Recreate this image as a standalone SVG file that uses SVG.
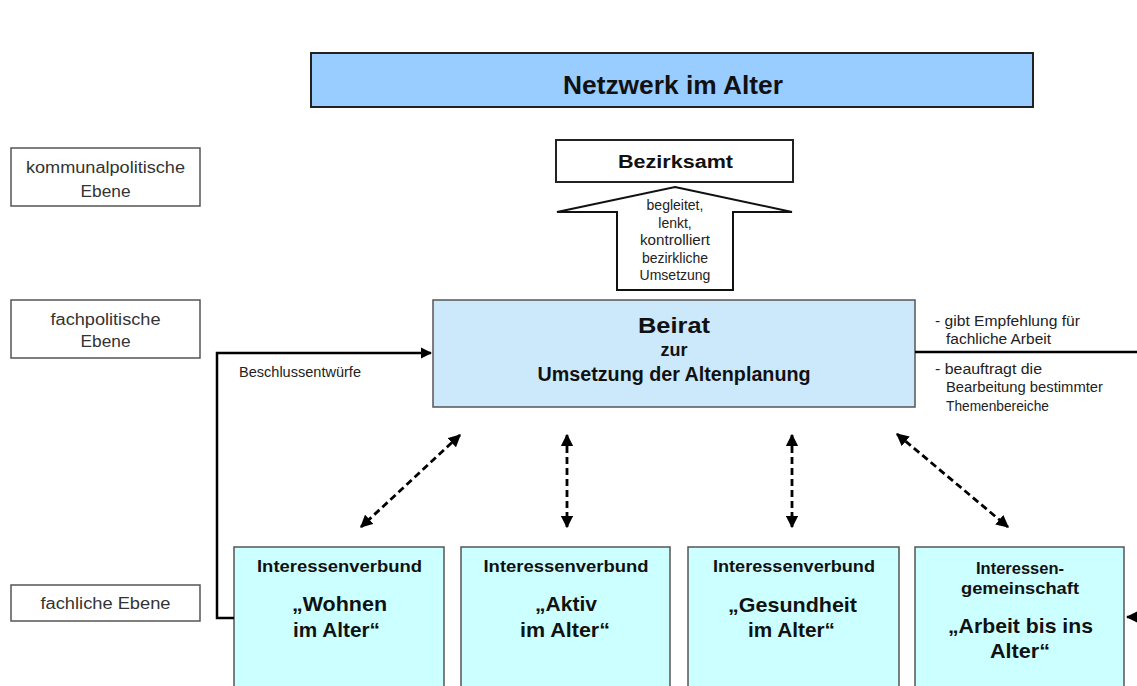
<svg xmlns="http://www.w3.org/2000/svg" width="1137" height="686" viewBox="0 0 1137 686">
<defs>
<style>
text{font-family:"Liberation Sans",Arial,sans-serif;fill:#111;}
.lvl{fill:#fff;stroke:#555;stroke-width:1.5;}
.lt{font-size:16px;fill:#333;text-anchor:middle;}
.sm{font-size:14px;fill:#222;}
.b{font-weight:bold;text-anchor:middle;}
.ib{fill:#ccffff;stroke:#555;stroke-width:1.5;}
.solid{fill:none;stroke:#000;stroke-width:2.5;}
.dash{fill:none;stroke:#000;stroke-width:2.8;stroke-dasharray:7,4;}
</style>
<marker id="ah" viewBox="0 0 10 10" refX="9" refY="5" markerWidth="4.5" markerHeight="4.5" orient="auto-start-reverse">
<path d="M0,0 L10,5 L0,10 z" fill="#000"/>
</marker>
</defs>
<rect width="1137" height="686" fill="#fff"/>

<g id="title">
<rect x="311" y="53" width="722" height="54" fill="#99ccff" stroke="#222" stroke-width="2"/>
<text x="673" y="94" class="b" font-size="25" textLength="220" lengthAdjust="spacingAndGlyphs">Netzwerk im Alter</text>
</g>

<g id="level-kommunal">
<rect x="11" y="148" width="189" height="58" class="lvl"/>
<text x="105.5" y="173" class="lt" textLength="159" lengthAdjust="spacingAndGlyphs">kommunalpolitische</text>
<text x="105.5" y="197" class="lt" textLength="50" lengthAdjust="spacingAndGlyphs">Ebene</text>
</g>
<g id="level-fachpolitisch">
<rect x="11" y="300" width="189" height="58" class="lvl"/>
<text x="105.5" y="325" class="lt" textLength="110" lengthAdjust="spacingAndGlyphs">fachpolitische</text>
<text x="105.5" y="347" class="lt" textLength="50" lengthAdjust="spacingAndGlyphs">Ebene</text>
</g>
<g id="level-fachlich">
<rect x="11" y="585" width="189" height="36" class="lvl"/>
<text x="105.5" y="609" class="lt" textLength="130" lengthAdjust="spacingAndGlyphs">fachliche Ebene</text>
</g>

<g id="bezirksamt">
<rect x="556" y="140" width="237" height="42" fill="#fff" stroke="#222" stroke-width="2"/>
<text x="675.5" y="168" class="b" font-size="18" textLength="115" lengthAdjust="spacingAndGlyphs">Bezirksamt</text>
</g>

<g id="block-arrow">
<path d="M675,187 L792,212 L733,212 L733,290 L617,290 L617,212 L557,212 Z" fill="#fff" stroke="#111" stroke-width="2"/>
<text class="sm" text-anchor="middle" x="675" y="210" font-size="13.5">begleitet,</text>
<text class="sm" text-anchor="middle" x="675" y="227.5" font-size="13.5">lenkt,</text>
<text class="sm" text-anchor="middle" x="675" y="245" font-size="13.5" textLength="70" lengthAdjust="spacingAndGlyphs">kontrolliert</text>
<text class="sm" text-anchor="middle" x="675" y="262.5" font-size="13.5">bezirkliche</text>
<text class="sm" text-anchor="middle" x="675" y="280" font-size="13.5">Umsetzung</text>
</g>

<g id="beirat">
<rect x="433" y="300" width="482" height="107" fill="#cce9fb" stroke="#555" stroke-width="1.5"/>
<text x="674" y="333" class="b" font-size="22" textLength="72" lengthAdjust="spacingAndGlyphs">Beirat</text>
<text x="674" y="356" class="b" font-size="18">zur</text>
<text x="674" y="381" class="b" font-size="20" textLength="273" lengthAdjust="spacingAndGlyphs">Umsetzung der Altenplanung</text>
</g>

<g id="beirat-notes">
<text class="sm" x="935" y="326" textLength="145" lengthAdjust="spacingAndGlyphs">- gibt Empfehlung für</text>
<text class="sm" x="946" y="344" textLength="105" lengthAdjust="spacingAndGlyphs">fachliche Arbeit</text>
<text class="sm" x="935" y="374" textLength="107" lengthAdjust="spacingAndGlyphs">- beauftragt die</text>
<text class="sm" x="946" y="392" textLength="157" lengthAdjust="spacingAndGlyphs">Bearbeitung bestimmter</text>
<text class="sm" x="946" y="411" textLength="103" lengthAdjust="spacingAndGlyphs">Themenbereiche</text>
<text class="sm" x="239" y="377" textLength="122" lengthAdjust="spacingAndGlyphs">Beschlussentwürfe</text>
</g>

<g id="iv-wohnen">
<rect x="234" y="547" width="210" height="150" class="ib"/>
<text x="339.5" y="572" class="b" font-size="17" textLength="165" lengthAdjust="spacingAndGlyphs">Interessenverbund</text>
<text x="339.5" y="611" class="b" font-size="21" textLength="95" lengthAdjust="spacingAndGlyphs">„Wohnen</text>
<text x="336.5" y="637" class="b" font-size="21" textLength="87" lengthAdjust="spacingAndGlyphs">im Alter“</text>
</g>
<g id="iv-aktiv">
<rect x="461" y="547" width="209" height="150" class="ib"/>
<text x="566" y="572" class="b" font-size="17" textLength="165" lengthAdjust="spacingAndGlyphs">Interessenverbund</text>
<text x="566" y="611" class="b" font-size="21" textLength="62" lengthAdjust="spacingAndGlyphs">„Aktiv</text>
<text x="565" y="637" class="b" font-size="21" textLength="90" lengthAdjust="spacingAndGlyphs">im Alter“</text>
</g>
<g id="iv-gesundheit">
<rect x="688" y="547" width="211" height="150" class="ib"/>
<text x="794" y="572" class="b" font-size="17" textLength="162" lengthAdjust="spacingAndGlyphs">Interessenverbund</text>
<text x="792.5" y="612" class="b" font-size="21" textLength="129" lengthAdjust="spacingAndGlyphs">„Gesundheit</text>
<text x="791.5" y="637" class="b" font-size="21" textLength="87" lengthAdjust="spacingAndGlyphs">im Alter“</text>
</g>
<g id="ig-arbeit">
<rect x="915" y="547" width="209" height="150" class="ib"/>
<text x="1020" y="574" class="b" font-size="17" textLength="88" lengthAdjust="spacingAndGlyphs">Interessen-</text>
<text x="1020" y="594" class="b" font-size="17" textLength="118" lengthAdjust="spacingAndGlyphs">gemeinschaft</text>
<text x="1020.5" y="633" class="b" font-size="21" textLength="145" lengthAdjust="spacingAndGlyphs">„Arbeit bis ins</text>
<text x="1020" y="658" class="b" font-size="21" textLength="60" lengthAdjust="spacingAndGlyphs">Alter“</text>
</g>

<g id="connectors">
<path d="M234,618 L217,618 L217,353 L431,353" class="solid" marker-end="url(#ah)"/>
<path d="M915,352 L1137,352" class="solid"/>
<path d="M1137,617 L1127,617" class="solid" marker-end="url(#ah)"/>
<path d="M460,435 L361,527" class="dash" marker-start="url(#ah)" marker-end="url(#ah)"/>
<path d="M567,435 L567,527" class="dash" marker-start="url(#ah)" marker-end="url(#ah)"/>
<path d="M792,435 L792,527" class="dash" marker-start="url(#ah)" marker-end="url(#ah)"/>
<path d="M897,434 L1008,527" class="dash" marker-start="url(#ah)" marker-end="url(#ah)"/>
</g>
</svg>
